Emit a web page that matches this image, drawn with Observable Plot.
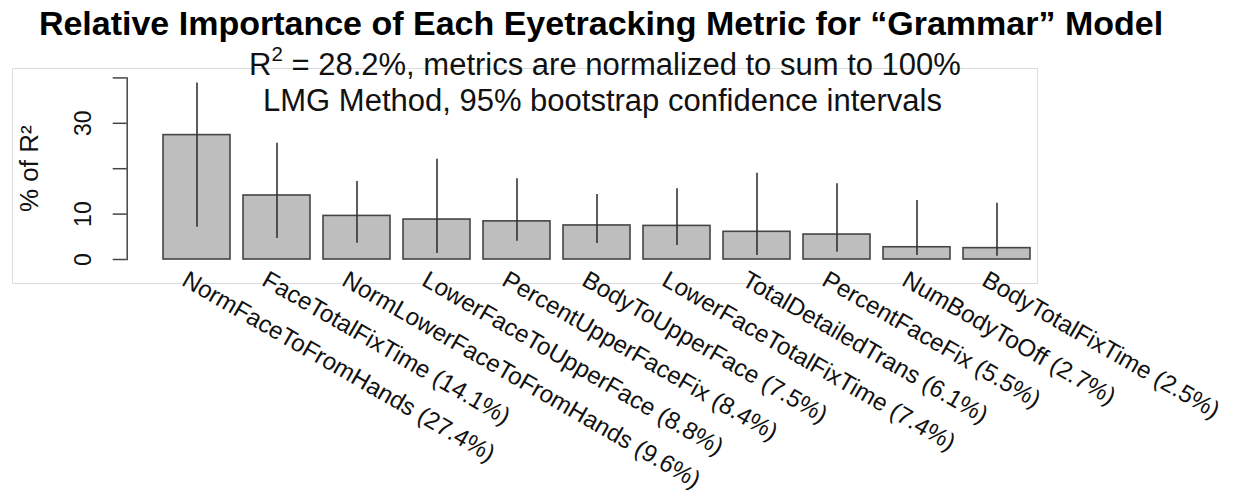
<!DOCTYPE html>
<html>
<head>
<meta charset="utf-8">
<script src="https://cdn.jsdelivr.net/npm/d3@7"></script>
<script src="https://cdn.jsdelivr.net/npm/@observablehq/plot@0.6"></script>
<style>
  html, body { margin: 0; padding: 0; background: #fff; }
  #wrap { position: relative; width: 1234px; height: 497px; overflow: hidden; font-family: "Liberation Sans", Arial, sans-serif; }
  #box { position: absolute; left: 12px; top: 68px; width: 1024px; height: 214px; border: 1px solid #dcdcdc; }
  #chart { position: absolute; left: 0; top: 0; }
  .t { position: absolute; left: 0; text-align: center; white-space: nowrap; color: #000; }
  #title { top: 6px; width: 1202px; font-size: 34px; line-height: 34px; font-weight: bold; }
  #sub1 { top: 49px; width: 1210px; font-size: 31px; line-height: 31px; color: #111; }
  #sub2 { top: 85px; width: 1205px; font-size: 31px; line-height: 31px; color: #111; }
  sup { font-size: 0.66em; position: relative; top: -0.15em; line-height: 0; }
</style>
</head>
<body>
<div id="wrap">
  <div id="box"></div>
  <div id="chart"></div>
  <div class="t" id="title">Relative Importance of Each Eyetracking Metric for “Grammar” Model</div>
  <div class="t" id="sub1">R<sup>2</sup> = 28.2%, metrics are normalized to sum to 100%</div>
  <div class="t" id="sub2">LMG Method, 95% bootstrap confidence intervals</div>
</div>
<script>
// Metric names (ordered as in the chart)
const metrics = [
  "NormFaceToFromHands", "FaceTotalFixTime", "NormLowerFaceToFromHands",
  "LowerFaceToUpperFace", "PercentUpperFaceFix", "BodyToUpperFace",
  "LowerFaceTotalFixTime", "TotalDetailedTrans", "PercentFaceFix",
  "NumBodyToOff", "BodyTotalFixTime"
];
// Relative importance (% of R²)
const importance = [27.4, 14.1, 9.6, 8.8, 8.4, 7.5, 7.4, 6.1, 5.5, 2.7, 2.5];
// 95% bootstrap CI bounds
const ciLower = [7.1, 4.6, 3.6, 1.3, 4.0, 3.5, 3.1, 0.9, 1.6, 0.9, 0.7];
const ciUpper = [38.9, 25.6, 17.2, 22.1, 17.8, 14.3, 15.6, 19.0, 16.7, 13.0, 12.4];
// Y axis ticks and their labels (R omits overlapping labels)
const yTicks = [0, 10, 20, 30, 40];
const yTickLabels = ["0", "10", "", "30", ""];
const yLabel = "% of R²";

const data = metrics.map((name, i) => ({
  name, value: importance[i], lo: ciLower[i], hi: ciUpper[i],
  label: `${name} (${importance[i].toFixed(1)}%)`
}));

const font = "'Liberation Sans', Arial, sans-serif";

const plot = Plot.plot({
  width: 1234,
  height: 497,
  marginLeft: 126.7,
  marginRight: 168.1,
  marginTop: 77.4,
  marginBottom: 238,
  style: { background: "transparent", fontFamily: font, overflow: "visible" },
  x: { domain: metrics, paddingInner: 0.16, paddingOuter: 0.423, align: 0.5, axis: null },
  y: { domain: [0, 40], axis: null },
  marks: [
    Plot.barY(data, { x: "name", y: "value", fill: "#bebebe", stroke: "#454545", strokeWidth: 1.6 }),
    Plot.ruleX(data, { x: "name", y1: "lo", y2: "hi", stroke: "#333", strokeWidth: 1.6 }),
    Plot.frame({ anchor: "left", stroke: "#444", strokeWidth: 1.5 }),
    Plot.axisY({ ticks: yTicks, tickSize: 14, tickFormat: () => "", label: null, stroke: "#444", strokeWidth: 1.5 }),
    Plot.text(yTicks, {
      y: d => d, text: (d, i) => yTickLabels[i], frameAnchor: "left",
      rotate: -90, textAnchor: "middle", lineAnchor: "bottom",
      dx: -36, fontSize: 23, fill: "#111"
    }),
    Plot.text([yLabel], {
      text: d => d, frameAnchor: "left", rotate: -90, textAnchor: "middle",
      lineAnchor: "bottom", dx: -89, fontSize: 26, fill: "#111"
    }),
    Plot.text(data, {
      x: "name", y: d => 0, text: "label", rotate: 30,
      textAnchor: "start", lineAnchor: "bottom", dx: -16.5, dy: 25,
      fontSize: 24.2, fill: "#111"
    })
  ]
});
document.getElementById("chart").appendChild(plot);
</script>
</body>
</html>
